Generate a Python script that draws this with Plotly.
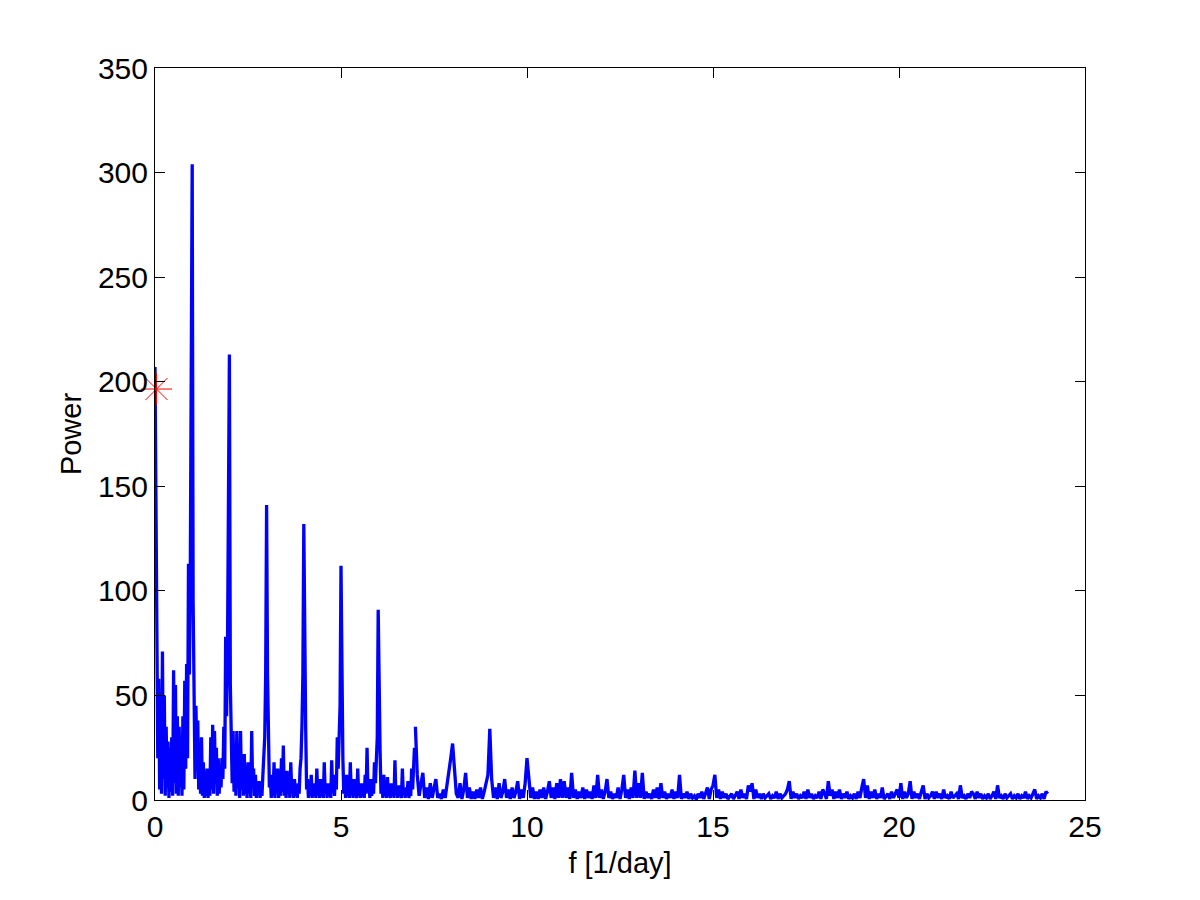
import plotly.graph_objects as go

# Periodogramm: Leistung über Frequenz
# 0..7 1/day mit feinem Raster (0.025), 7..24 1/day mit 0.05 - je Array eine Einheit
STEP_FINE = 0.025
STEP_COARSE = 0.05

p00 = [207, 150, 113, 20, 58, 5, 45, 3, 71, 10, 50, 2, 35, 6, 28, 1, 25, 4, 30, 2,
       62, 8, 55, 3, 40, 2, 35, 6, 30, 2, 40, 5, 57, 15, 65, 20, 113, 60, 114, 262]
p01 = [304, 95, 48, 10, 45, 20, 38, 5, 25, 3, 30, 2, 18, 1, 10, 2, 15, 1, 8, 2,
       30, 5, 36, 3, 33, 8, 25, 2, 20, 3, 15, 6, 20, 10, 35, 15, 78, 40, 75, 150]
p02 = [213, 55, 30, 8, 33, 4, 25, 2, 33, 6, 22, 1, 33, 5, 18, 2, 22, 3, 12, 1,
       18, 4, 10, 1, 33, 6, 15, 2, 12, 1, 8, 3, 9, 1, 6, 2, 12, 20, 30, 60]
p03 = [141, 60, 40, 6, 12, 1, 10, 2, 18, 1, 15, 3, 15, 1, 8, 2, 20, 4, 26, 2,
       10, 1, 14, 3, 8, 1, 18, 4, 10, 1, 10, 2, 6, 1, 8, 3, 15, 20, 35, 60]
p04 = [132, 60, 35, 5, 10, 1, 8, 2, 12, 1, 6, 2, 8, 1, 15, 3, 6, 1, 10, 2,
       5, 1, 18, 3, 8, 1, 8, 2, 5, 1, 19, 4, 8, 2, 12, 5, 30, 15, 32, 45]
p05 = [112, 40, 20, 3, 8, 1, 12, 2, 5, 1, 18, 3, 6, 1, 10, 2, 4, 1, 15, 2,
       8, 1, 8, 2, 5, 1, 12, 3, 25, 4, 10, 1, 10, 2, 6, 3, 18, 8, 22, 30]
p06 = [91, 35, 24, 3, 8, 1, 12, 2, 5, 1, 11, 2, 4, 1, 8, 2, 6, 1, 19, 3,
       6, 1, 7, 2, 4, 1, 15, 3, 6, 1, 5, 2, 9, 1, 4, 2, 15, 5, 20, 25]

p07 = [35, 12, 2, 8, 13, 1, 6, 0.5, 8, 1, 5, 10, 1, 3, 0.5, 5, 1, 7, 12, 20]
p08 = [27, 15, 3, 1, 8, 0.5, 5, 13, 1, 6, 0.5, 4, 0.5, 5, 1, 6, 0.5, 4, 8, 12]
p09 = [34, 10, 1, 6, 0.5, 8, 1, 4, 10, 1, 5, 0.5, 6, 1, 4, 9, 0.5, 5, 1, 8]
p10 = [20, 8, 1, 6, 0.5, 4, 0.5, 5, 1, 6, 0.5, 4, 9, 1, 6, 0.5, 8, 1, 10, 1]
p11 = [9, 1, 6, 0.5, 13, 1, 5, 0.5, 4, 1, 6, 0.5, 5, 1, 4, 0.5, 7, 1, 12, 1]
p12 = [5, 0.5, 4, 10, 1, 4, 0.5, 3, 1, 6, 0.5, 5, 12, 1, 5, 0.5, 6, 1, 14, 1]
p13 = [8, 1, 13, 0.5, 4, 1, 3, 0.5, 5, 1, 6, 0.5, 8, 1, 4, 0.5, 3, 1, 5, 0.5]
p14 = [4, 1, 12, 0.5, 3, 1, 4, 0.5, 3, 1, 2, 0.3, 3, 1, 4, 0.5, 3, 6, 0.5, 5]
p15 = [7, 12, 1, 5, 0.5, 4, 1, 3, 0.5, 2, 3, 0.5, 2, 4, 0.5, 5, 1, 3, 0.5, 7]
p16 = [4, 8, 0.5, 5, 1, 3, 0.5, 3, 1, 2, 3, 0.5, 2, 1, 4, 0.5, 3, 1, 2, 3]
p17 = [5, 9, 0.5, 4, 1, 3, 0.5, 2, 1, 4, 0.5, 5, 1, 3, 0.5, 2, 1, 4, 0.5, 5]
p18 = [3, 0.5, 9, 2, 5, 0.5, 4, 1, 5, 0.5, 3, 1, 4, 0.5, 2, 1, 3, 0.5, 4, 1]
p19 = [6, 10, 1, 7, 0.5, 4, 1, 5, 0.5, 3, 1, 6, 0.5, 2, 3, 0.5, 4, 1, 3, 5]
p20 = [1, 8, 0.5, 4, 1, 3, 9, 0.5, 4, 1, 3, 0.5, 4, 7, 0.5, 3, 1, 2, 4, 0.5]
p21 = [4, 1, 3, 0.5, 5, 1, 2, 0.5, 4, 1, 2, 3, 0.5, 7, 1, 2, 0.5, 3, 1, 4]
p22 = [3, 0.5, 4, 1, 3, 0.5, 2, 1, 3, 0.5, 2, 4, 0.5, 7, 1, 2, 0.5, 3, 1, 2]
p23 = [3, 0.5, 2, 1, 3, 0.5, 2, 1, 4, 0.5, 2, 1, 3, 5, 0.5, 2, 1, 3, 0.5, 4]
p24 = [3]

power_low = p00 + p01 + p02 + p03 + p04 + p05 + p06
power_high = (p07 + p08 + p09 + p10 + p11 + p12 + p13 + p14 + p15 + p16
              + p17 + p18 + p19 + p20 + p21 + p22 + p23 + p24)

# markierter Punkt (Stern)
star_f = [0.04]
star_p = [196.5]

x_ticks = [0, 5, 10, 15, 20, 25]
y_ticks = [0, 50, 100, 150, 200, 250, 300, 350]

FONT = "Liberation Sans, Arial, sans-serif"
BLUE = '#0000ff'
LW = 3.3

fig = go.Figure()
fig.add_trace(go.Scatter(
    y=power_low, x0=0, dx=STEP_FINE, mode='lines',
    line=dict(color=BLUE, width=LW), showlegend=False,
))
fig.add_trace(go.Scatter(
    y=power_high, x0=7, dx=STEP_COARSE, mode='lines',
    line=dict(color=BLUE, width=LW), showlegend=False,
))
fig.add_trace(go.Scatter(
    x=star_f, y=star_p, mode='markers', cliponaxis=False,
    marker=dict(symbol='asterisk-open', size=26, color='#ff0000',
                line=dict(color='#ff0000', width=1)),
    showlegend=False,
))

axis_common = dict(
    showline=True, linecolor='black', linewidth=1, mirror='ticks',
    ticks='inside', ticklen=10, tickwidth=1, tickcolor='black',
    showgrid=False, zeroline=False,
    tickfont=dict(family=FONT, size=30, color='black'),
)

# Seite hat 8px Rand -> Ränder entsprechend verschoben
fig.update_layout(
    width=1200, height=900, autosize=False,
    margin=dict(l=147, r=123, t=60, b=108),
    plot_bgcolor='white', paper_bgcolor='white',
    font=dict(family=FONT, size=29, color='black'),
    xaxis=dict(range=[0, 25], tickvals=x_ticks,
               title=dict(text='f [1/day]', standoff=10,
                          font=dict(family=FONT, size=29, color='black')),
               **axis_common),
    yaxis=dict(range=[0, 350], tickvals=y_ticks,
               title=dict(text='Power', standoff=7,
                          font=dict(family=FONT, size=29, color='black')),
               **axis_common),
)

fig.write_html("out.html")
